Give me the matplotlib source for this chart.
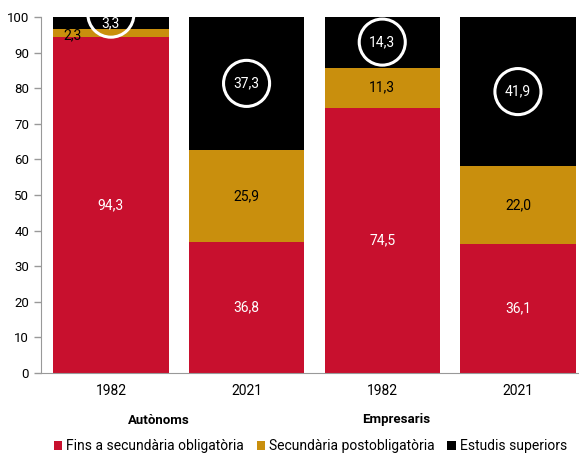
import matplotlib
matplotlib.use("Agg")
import matplotlib.pyplot as plt
import numpy as np

plt.rcParams['font.family'] = ['Roboto', 'DejaVu Sans']

years = ["1982", "2021", "1982", "2021"]
groups = ["Autònoms", "Empresaris"]
series = ["Fins a secundària obligatòria", "Secundària postobligatòria", "Estudis superiors"]
fins_sec = [94.3, 36.8, 74.5, 36.1]
sec_post = [2.3, 25.9, 11.3, 22.0]
superiors = [3.3, 37.3, 14.3, 41.9]

colors = ["#C8102E", "#C98F0D", "#000000"]

fig = plt.figure(figsize=(5.79, 4.53), dpi=100)
ax = fig.add_axes([41 / 579, 1 - 373 / 453, 538 / 579, 356 / 453])

x = np.arange(len(years))
w = 0.85
ax.bar(x, fins_sec, w, color=colors[0], label=series[0])
ax.bar(x, sec_post, w, bottom=fins_sec, color=colors[1], label=series[1])
bottom2 = np.array(fins_sec) + np.array(sec_post)
ax.bar(x, superiors, w, bottom=bottom2, color=colors[2], label=series[2])

fs = 10
for i in range(len(x)):
    ax.text(x[i], fins_sec[i] / 2, f"{fins_sec[i]:.1f}".replace(".", ","),
            ha="center", va="center", color="white", fontsize=fs)
    lab = f"{sec_post[i]:.1f}".replace(".", ",")
    if sec_post[i] < 5:
        ax.text(x[i] - 0.28, fins_sec[i] + sec_post[i] / 2 - 0.7, lab,
                ha="center", va="center", color="black", fontsize=fs)
    else:
        ax.text(x[i], fins_sec[i] + sec_post[i] / 2, lab,
                ha="center", va="center", color="black", fontsize=fs)
    ytop = bottom2[i] + superiors[i] / 2
    ax.text(x[i], ytop, f"{superiors[i]:.1f}".replace(".", ","),
            ha="center", va="center", color="white", fontsize=fs)
    yc = ytop if superiors[i] > 5 else 100.8
    ax.scatter([x[i]], [yc], s=1100, facecolors="none", edgecolors="white",
               linewidths=2.2, zorder=5, clip_on=True)

ax.set_ylim(0, 100)
ax.set_xlim(-0.515, 3.45)
ax.set_yticks(range(0, 101, 10))
ax.set_xticks(x)
ax.set_xticklabels(years)
ax.tick_params(axis="y", labelsize=9.5, color="#999999", length=5, width=1)
ax.tick_params(axis="x", labelsize=fs, length=0, pad=8)
for s in ["top", "right"]:
    ax.spines[s].set_visible(False)
ax.spines["left"].set_color("#999999")
ax.spines["bottom"].set_color("#999999")

trans = matplotlib.transforms.blended_transform_factory(ax.transData, fig.transFigure)
ax.text(0.35, 1 - 420 / 453, groups[0], transform=trans, ha="center", va="center",
        fontsize=9.5, fontweight="bold")
ax.text(2.1, 1 - 420 / 453, groups[1], transform=trans, ha="center", va="center",
        fontsize=9.5, fontweight="bold")

fig.legend(loc="center left", bbox_to_anchor=(54 / 579, 1 - 446 / 453), ncol=3,
           frameon=False, fontsize=10, handlelength=0.6, handleheight=0.6,
           handletextpad=0.3, columnspacing=0.9, borderaxespad=0, borderpad=0)

fig.savefig("out.png", dpi=100)
